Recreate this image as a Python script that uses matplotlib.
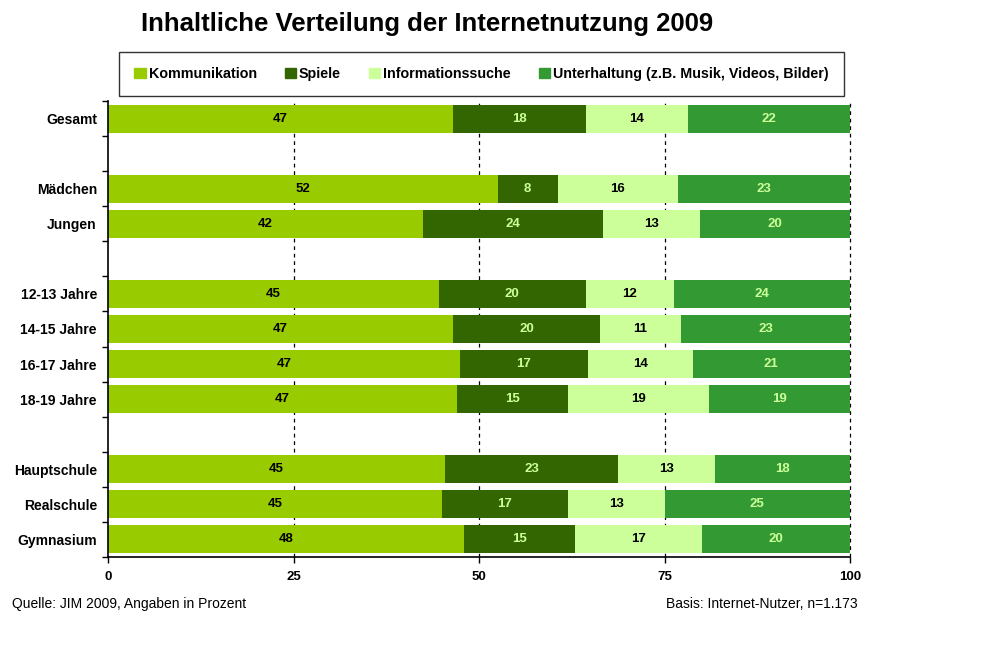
import matplotlib.pyplot as plt
import numpy as np

plt.rcParams.update({
    "font.family": ["Liberation Sans", "DejaVu Sans"],
    "figure.facecolor": "white",
    "axes.facecolor": "white",
})

# rows from top to bottom; None marks an empty spacer slot
categories = ["Gesamt", None, "Mädchen", "Jungen", None,
              "12-13 Jahre", "14-15 Jahre", "16-17 Jahre", "18-19 Jahre", None,
              "Hauptschule", "Realschule", "Gymnasium"]
kommunikation = [47, None, 52, 42, None, 45, 47, 47, 47, None, 45, 45, 48]
spiele = [18, None, 8, 24, None, 20, 20, 17, 15, None, 23, 17, 15]
information = [14, None, 16, 13, None, 12, 11, 14, 19, None, 13, 13, 17]
unterhaltung = [22, None, 23, 20, None, 24, 23, 21, 19, None, 18, 25, 20]

series_names = ["Kommunikation", "Spiele", "Informationssuche",
                "Unterhaltung (z.B. Musik, Videos, Bilder)"]
colors = ["#99CC00", "#336600", "#CCFF99", "#339933"]
text_colors = ["black", "#CCFF99", "black", "#CCFF99"]

fig = plt.figure(figsize=(10.02, 6.53), dpi=100)
ax = fig.add_axes([108 / 1002, 96 / 653, 742 / 1002, 456 / 653])

series = [kommunikation, spiele, information, unterhaltung]
n = len(categories)
for i in range(n):
    if categories[i] is None:
        continue
    vals = np.array([s[i] for s in series], dtype=float)
    # bars are scaled to a full 100 % width
    widths = vals / vals.sum() * 100.0
    left = 0.0
    for j, w in enumerate(widths):
        ax.barh(i, w, left=left, height=0.8, color=colors[j], zorder=2)
        ax.text(left + w / 2, i, f"{int(vals[j])}", ha="center", va="center",
                fontsize=9.5, fontweight="bold", color=text_colors[j], zorder=3)
        left += w

ax.set_ylim(n - 0.5, -0.5)
ax.set_xlim(0, 100)

ax.set_xticks([0, 25, 50, 75, 100])
ax.set_xticklabels(["0", "25", "50", "75", "100"], fontweight="bold", fontsize=9.5)
ax.tick_params(axis="x", direction="out", length=4, width=1, pad=6)

label_pos = [i for i, c in enumerate(categories) if c is not None]
ax.set_yticks(label_pos)
ax.set_yticklabels([categories[i] for i in label_pos], fontweight="bold", fontsize=10)
ax.tick_params(axis="y", which="major", length=0, pad=8)
ax.set_yticks(np.arange(-0.5, n, 1.0), minor=True)
ax.tick_params(axis="y", which="minor", direction="out", length=4, width=1)

for x in [25, 50, 75, 100]:
    ax.axvline(x, color="black", lw=0.9, ls=(0, (3, 3)), zorder=1, clip_on=False)

for side in ["top", "right"]:
    ax.spines[side].set_visible(False)
for side in ["left", "bottom"]:
    ax.spines[side].set_linewidth(1.2)

fig.text(141 / 1002, 1 - 24 / 653, "Inhaltliche Verteilung der Internetnutzung 2009",
         fontsize=18.5, fontweight="bold", va="center", ha="left")

handles = [plt.Rectangle((0, 0), 1, 1, color=c) for c in colors]
leg = fig.legend(handles, series_names, loc="center",
                 bbox_to_anchor=(481.5 / 1002, 1 - 74 / 653),
                 ncol=4, frameon=True, fancybox=False,
                 prop={"weight": "bold", "size": 10.3}, handlelength=0.8,
                 handleheight=0.7, handletextpad=0.2, borderaxespad=0,
                 borderpad=1.05, columnspacing=1.95)
leg.get_frame().set_edgecolor("black")
leg.get_frame().set_linewidth(1.0)

fig.text(12 / 1002, 1 - 604 / 653, "Quelle: JIM 2009, Angaben in Prozent",
         fontsize=10, va="center", ha="left")
fig.text(858 / 1002, 1 - 604 / 653, "Basis: Internet-Nutzer, n=1.173",
         fontsize=10, va="center", ha="right")

fig.savefig("out.png", dpi=100)
